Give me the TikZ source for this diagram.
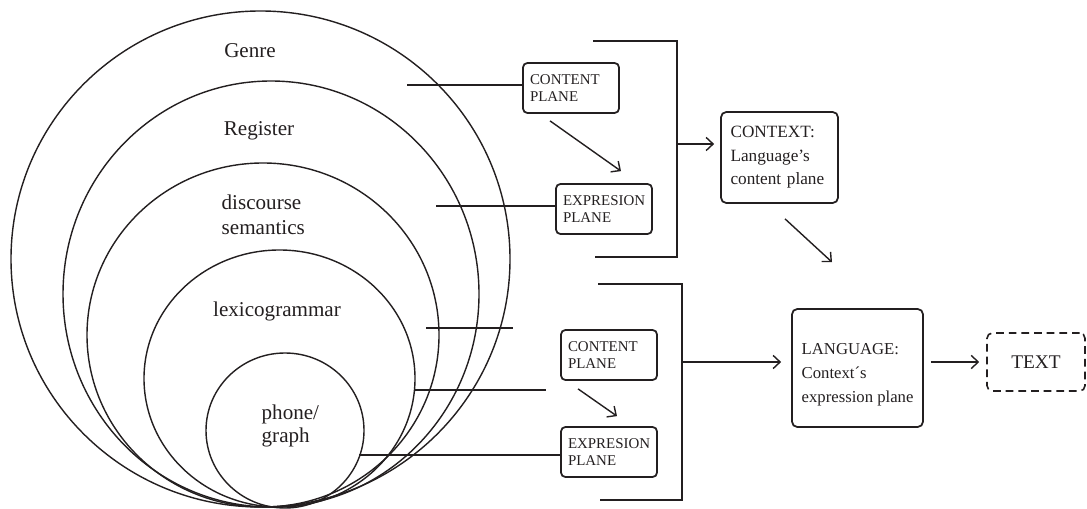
\documentclass[tikz,border=0pt]{standalone}
\usepackage{fontspec}
\setmainfont{Liberation Serif}
\usetikzlibrary{arrows.meta,calc}
\definecolor{ink}{RGB}{35,31,32}

\begin{document}
\begin{tikzpicture}[x=0.02cm, y=-0.02cm, color=ink, line width=0.8pt,
  lbl/.style={inner sep=0pt, text=ink, font=\fontsize{12}{14}\selectfont},
  plane/.style={draw, rounded corners=2.5pt, line width=1pt,
    minimum width=1.92cm, minimum height=1cm, text width=1.64cm,
    inner xsep=0.14cm, align=left, text=ink,
    font=\fontsize{8.5}{9.6}\selectfont},
  bigbox/.style={draw, rounded corners=3pt, line width=1pt, align=left, text=ink,
    font=\fontsize{9.8}{13.4}\selectfont},
  arr/.style={-{Straight Barb[length=4pt,width=7.5pt]}, line width=0.8pt},
  link/.style={line width=0.8pt}]

\useasboundingbox (0,0) rectangle (1087,509);

% nested strata, all meeting near the bottom
\draw (260.5,259) ellipse [x radius=249.5, y radius=248];
\draw (271,294) ellipse [x radius=208, y radius=213];
\draw (263,335) ellipse [x radius=176, y radius=172];
\draw (279.5,378.5) ellipse [x radius=135.5, y radius=128.5];
\draw (285,430.5) ellipse [x radius=79, y radius=77.5];

% stratum labels
\node[lbl] (genre) at (250,51) {Genre};
\node[lbl] (register) at (259,131) {Register};
\node[lbl, anchor=west, align=left] (discourse) at (221,215) {discourse\\semantics};
\node[lbl] (lexico) at (277,311) {lexicogrammar};
\node[lbl, anchor=west, align=left, font=\fontsize{12}{13}\selectfont] (phone) at (261,426) {phone/\\graph};

% content / expression planes
\node[plane] (cp1) at (571,88) {CONTENT\\PLANE};
\node[plane] (ep1) at (604,209) {EXPRESION\\PLANE};
\node[plane] (cp2) at (609,355) {CONTENT\\PLANE};
\node[plane] (ep2) at (609,452) {EXPRESION\\PLANE};

% context, language, text
\node[bigbox, minimum width=2.34cm, minimum height=1.82cm, text width=1.96cm, inner xsep=0.19cm]
  (context) at (779.5,157.5) {CONTEXT:\\Language’s\\content plane};
\node[draw, rounded corners=3pt, line width=1pt, minimum width=2.62cm, minimum height=2.36cm]
  (language) at (857.5,368) {};
\node[anchor=west, align=left, inner sep=0pt, text=ink, font=\fontsize{9.5}{13.6}\selectfont]
  (langtext) at (801,375) {LANGUAGE:\\Context´s\\expression plane};
\node[draw, dash pattern=on 4.4pt off 2.8pt, rounded corners=3pt, line width=0.9pt,
  minimum width=1.96cm, minimum height=1.16cm, text=ink, font=\fontsize{11}{13}\selectfont]
  (txt) at (1036,362) {TEXT};

% leader lines from the strata
\coordinate (g1) at (407,85);
\draw[link] (g1) -- (g1 -| cp1.west);
\coordinate (d1) at (436,206);
\draw[link] (d1) -- (d1 -| ep1.west);
\coordinate (l1) at (426,328);
\coordinate (l2) at (513,328);
\draw[link] (l1) -- (l2);
\coordinate (m1) at (415,390);
\coordinate (m2) at (546,390);
\draw[link] (m1) -- (m2);
\coordinate (p1) at (359,455);
\draw[link] (p1) -- (p1 -| ep2.west);

% realisation arrows between planes
\draw[arr] ([shift={(-21,7)}]cp1.south) -- ([shift={(17,-12)}]ep1.north);
\draw[arr] ([shift={(-31,8)}]cp2.south) -- ([shift={(8,-10)}]ep2.north);

% upper bracket
\coordinate (b1a) at (593,41);
\coordinate (b1b) at (677,41);
\coordinate (b1c) at (677,257);
\coordinate (b1d) at (595,257);
\coordinate (b1m) at (677,144);
\draw[link] (b1a) -- (b1b) -- (b1c) -- (b1d);
\draw[arr, shorten >=0.12cm] (b1m) -- (b1m -| context.west);

% lower bracket
\coordinate (b2a) at (598,284);
\coordinate (b2b) at (682,284);
\coordinate (b2c) at (682,500);
\coordinate (b2d) at (600,500);
\coordinate (b2m) at (682,362);
\draw[link] (b2a) -- (b2b) -- (b2c) -- (b2d);
\draw[arr, shorten >=0.2cm] (b2m) -- (b2m -| language.west);

% context to language, language to text
\draw[arr] ([shift={(5.5,15)}]context.south) -- ([shift={(-25.5,-46)}]language.north);
\draw[arr, shorten <=0.14cm, shorten >=0.14cm] (language.east |- txt.west) -- (txt.west);

\end{tikzpicture}
\end{document}
